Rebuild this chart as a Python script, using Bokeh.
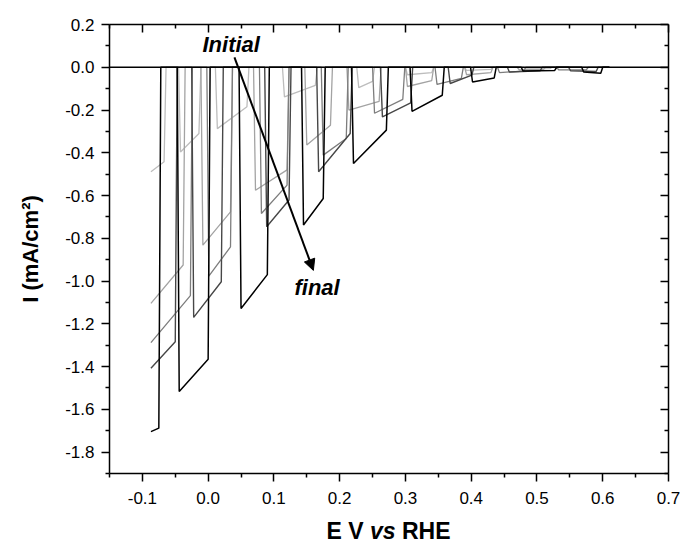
from bokeh.plotting import figure
from bokeh.models import (Range1d, LinearAxis, FixedTicker, Span, Label, Arrow,
                          NormalHead, PrintfTickFormatter, Div)
from bokeh.layouts import column
from bokeh.embed import file_html
from bokeh.resources import INLINE

# ---------------- data ----------------
x_ticks = [-0.1, 0.0, 0.1, 0.2, 0.3, 0.4, 0.5, 0.6, 0.7]
x_minor = [-0.15, -0.05, 0.05, 0.15, 0.25, 0.35, 0.45, 0.55, 0.65]
x_tick_labels = ["-0.1", "0.0", "0.1", "0.2", "0.3", "0.4", "0.5", "0.6", "0.7"]
y_ticks = [0.2, 0.0, -0.2, -0.4, -0.6, -0.8, -1.0, -1.2, -1.4, -1.6, -1.8]
y_minor = [0.1, -0.1, -0.3, -0.5, -0.7, -0.9, -1.1, -1.3, -1.5, -1.7, -1.9]
y_tick_labels = ["0.2", "0.0", "-0.2", "-0.4", "-0.6", "-0.8", "-1.0", "-1.2",
                 "-1.4", "-1.6", "-1.8"]

scan_start = -0.087
scan_end = 0.61

# curve 1 (initial, lightest)
c1_on_start = [-0.087, -0.045, 0.011, 0.113, 0.226, 0.300, 0.390, 0.480]
c1_on_end   = [-0.067, -0.014, 0.059, 0.163, 0.250, 0.340, 0.430, 0.520]
c1_i_start  = [-0.489, -0.396, -0.287, -0.139, -0.095, -0.035, -0.015, -0.008]
c1_i_end    = [-0.442, -0.310, -0.185, -0.085, -0.066, -0.025, -0.010, -0.006]

# curve 2
c2_on_start = [-0.087, -0.011, 0.069, 0.147, 0.211, 0.300, 0.390, 0.470]
c2_on_end   = [-0.038, 0.034, 0.120, 0.186, 0.260, 0.340, 0.430, 0.510]
c2_i_start  = [-1.104, -0.832, -0.575, -0.364, -0.200, -0.090, -0.035, -0.012]
c2_i_end    = [-0.925, -0.676, -0.480, -0.271, -0.160, -0.062, -0.025, -0.010]

# curve 3
c3_on_start = [-0.087, -0.002, 0.078, 0.172, 0.250, 0.345, 0.440, 0.530]
c3_on_end   = [-0.027, 0.034, 0.120, 0.210, 0.296, 0.385, 0.480, 0.575]
c3_i_start  = [-1.288, -0.977, -0.684, -0.411, -0.215, -0.080, -0.025, -0.012]
c3_i_end    = [-1.068, -0.840, -0.551, -0.333, -0.150, -0.052, -0.018, -0.012]

# curve 4
c4_on_start = [-0.087, -0.025, 0.086, 0.165, 0.262, 0.365, 0.455, 0.548]
c4_on_end   = [-0.050, 0.020, 0.123, 0.216, 0.308, 0.401, 0.505, 0.590]
c4_i_start  = [-1.408, -1.170, -0.746, -0.489, -0.232, -0.076, -0.022, -0.016]
c4_i_end    = [-1.284, -1.003, -0.621, -0.310, -0.167, -0.037, -0.016, -0.020]

# curve 5 (final, black)
c5_on_start = [-0.087, -0.047, 0.047, 0.142, 0.218, 0.307, 0.399, 0.476, 0.568]
c5_on_end   = [-0.075, 0.000, 0.090, 0.175, 0.271, 0.356, 0.435, 0.527, 0.597]
c5_i_start  = [-1.704, -1.517, -1.128, -0.738, -0.450, -0.206, -0.069, -0.018, -0.022]
c5_i_end    = [-1.688, -1.366, -0.970, -0.614, -0.294, -0.131, -0.050, -0.015, -0.028]

curves = [
    (c1_on_start, c1_on_end, c1_i_start, c1_i_end, "#bdbdbd", 1.3),
    (c2_on_start, c2_on_end, c2_i_start, c2_i_end, "#a3a3a3", 1.3),
    (c3_on_start, c3_on_end, c3_i_start, c3_i_end, "#7d7d7d", 1.3),
    (c4_on_start, c4_on_end, c4_i_start, c4_i_end, "#474747", 1.4),
    (c5_on_start, c5_on_end, c5_i_start, c5_i_end, "#000000", 1.5),
]

EDGE = 0.003  # slant of the light on/off edges


def chopped_path(on_s, on_e, i_s, i_e):
    xs, ys = [], []
    for k, (s, e, a, b) in enumerate(zip(on_s, on_e, i_s, i_e)):
        if k == 0 and s <= scan_start:
            xs.append(s); ys.append(a)
        else:
            if k == 0:
                xs.append(scan_start); ys.append(0.0)
            xs += [s, s + EDGE]; ys += [0.0, a]
        xs += [e, e + EDGE]; ys += [b, 0.0]
    xs.append(scan_end); ys.append(0.0)
    return xs, ys


# ---------------- figure ----------------
FONT = "Liberation Sans"
p = figure(width=682, height=510, output_backend="svg", toolbar_location=None,
           x_range=Range1d(-0.15, 0.7), y_range=Range1d(-1.9, 0.2),
           min_border_left=109, min_border_right=14, min_border_top=24,
           min_border_bottom=37, background_fill_color="white",
           border_fill_color="white")
p.xgrid.visible = False
p.ygrid.visible = False
p.outline_line_color = None

for on_s, on_e, i_s, i_e, col, lw in curves:
    xs, ys = chopped_path(on_s, on_e, i_s, i_e)
    p.line(xs, ys, line_color=col, line_width=lw)

p.add_layout(Span(location=0.0, dimension="width", line_color="black", line_width=1.6))


def style_axis(ax, outside, show_labels):
    ax.axis_line_width = 1.5
    ax.axis_line_color = "black"
    ax.major_tick_line_width = 1.5
    ax.minor_tick_line_width = 1.5
    ax.major_tick_line_color = "black"
    ax.minor_tick_line_color = "black"
    if outside:
        ax.major_tick_out, ax.major_tick_in = 8, 0
        ax.minor_tick_out, ax.minor_tick_in = 4, 0
    else:
        ax.major_tick_out, ax.major_tick_in = 0, 8
        ax.minor_tick_out, ax.minor_tick_in = 0, 4
    ax.major_label_text_font = FONT
    if show_labels:
        ax.major_label_text_font_size = "17px"
        ax.major_label_text_color = "black"
    else:
        ax.major_label_text_font_size = "1px"
        ax.major_label_text_color = None
        ax.major_label_standoff = 0


bx = p.xaxis[0]
bx.ticker = FixedTicker(ticks=x_ticks, minor_ticks=x_minor)
bx.formatter = PrintfTickFormatter(format="%.1f")
bx.major_label_overrides = dict(zip(x_ticks, x_tick_labels))
style_axis(bx, True, True)
bx.major_label_standoff = 10

ly = p.yaxis[0]
ly.ticker = FixedTicker(ticks=y_ticks, minor_ticks=y_minor)
ly.formatter = PrintfTickFormatter(format="%.1f")
ly.major_label_overrides = dict(zip(y_ticks, y_tick_labels))
style_axis(ly, True, True)
ly.major_label_standoff = 7
ly.axis_label = "I (mA/cm²)"
ly.axis_label_text_font = FONT
ly.axis_label_text_font_style = "bold"
ly.axis_label_text_font_size = "22px"
ly.axis_label_text_color = "black"
ly.axis_label_standoff = 19

tx = LinearAxis(ticker=FixedTicker(ticks=x_ticks, minor_ticks=x_minor))
style_axis(tx, False, False)
p.add_layout(tx, "above")
ry = LinearAxis(ticker=FixedTicker(ticks=y_ticks, minor_ticks=y_minor))
style_axis(ry, False, False)
p.add_layout(ry, "right")

# annotations
p.add_layout(Label(x=-0.0086, y=0.107, text="Initial", text_font=FONT,
                   text_font_style="bold italic", text_font_size="22px",
                   text_color="black", text_baseline="alphabetic"))
p.add_layout(Label(x=0.1313, y=-1.030, text="final", text_font=FONT,
                   text_font_style="bold italic", text_font_size="22px",
                   text_color="black", text_baseline="alphabetic"))
p.add_layout(Arrow(x_start=0.040, y_start=0.046, x_end=0.160, y_end=-0.950,
                   line_width=2, line_color="black",
                   end=NormalHead(size=11, fill_color="black", line_color="black")))

# x-axis title (with italic "vs") as real HTML text under the plot
xtitle = Div(text="E V <i>vs</i> RHE", width=559, height=36,
             margin=(0, 14, 0, 109),
             styles={"text-align": "center", "font-family": "'Liberation Sans', Arial, sans-serif",
                     "font-size": "23px", "font-weight": "bold", "color": "black",
                     "padding-top": "9px", "line-height": "25px",
                     "box-sizing": "border-box", "width": "559px"})

layout = column(p, xtitle, spacing=0)
open("out.html", "w").write(file_html(layout, INLINE))
